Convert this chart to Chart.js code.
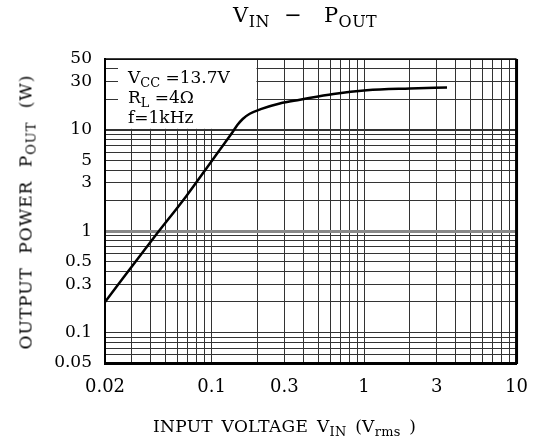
<!DOCTYPE html>
<html>
<head>
<meta charset="utf-8">
<script src="https://cdn.jsdelivr.net/npm/chart.js@4"></script>
<style>
  html, body { margin: 0; padding: 0; background: #fff; }
  #wrap { position: relative; width: 542px; height: 445px; font-family: "DejaVu Serif", serif; color: #000; }
  #wrap canvas { position: absolute; left: 0; top: 0; }
  .t { position: absolute; white-space: nowrap; line-height: 1; }
  .t sub { font-size: 76%; vertical-align: baseline; position: relative; top: 0.3em; }
  #title { left: 233px; top: 5px; font-size: 21px; letter-spacing: 0.5px; }
  #ylab { left: 26px; top: 212px; font-size: 17px; letter-spacing: 1px; word-spacing: 7px; transform: translate(-50%, -50%) rotate(-90deg); }
  #xlab { left: 153px; top: 418px; font-size: 17px; letter-spacing: 0.3px; word-spacing: 3px; }
  #note { left: 128px; top: 68px; font-size: 17px; line-height: 19px; }
</style>
</head>
<body>
<div id="wrap">
  <canvas id="chart" width="542" height="445"></canvas>
  <div class="t" id="title">V<sub>IN</sub>&nbsp; &minus; &nbsp;&nbsp;P<sub>OUT</sub></div>
  <div class="t" id="ylab">OUTPUT POWER P<sub>OUT</sub> (W)</div>
  <div class="t" id="xlab">INPUT VOLTAGE V<sub>IN</sub> (V<sub>rms</sub> )</div>
  <div class="t" id="note">V<sub>CC</sub> =13.7V<br>R<sub>L</sub> =4&Omega;<br>f=1kHz</div>
</div>
<script>
// curve (Vcc=13.7V, RL=4 ohm, 1kHz)
const inputV  = [0.02, 0.042, 0.068, 0.1, 0.122, 0.136, 0.148, 0.16, 0.178, 0.21, 0.28, 0.38, 0.63, 1.04, 2.0, 3.5];
const outputP = [0.2, 0.87, 2.2, 4.9, 7.4, 9.3, 11.2, 12.8, 14.4, 16.0, 18.2, 19.8, 22.6, 24.6, 25.6, 26.2];

const xLabels = [0.02, 0.1, 0.3, 1, 3, 10];
const yLabels = [0.05, 0.1, 0.3, 0.5, 1, 3, 5, 10, 30, 50];

// log grid: every 1..9 step of each decade
function logGrid(min, max){
    const out = [];
    for (let d = -3; d <= 2; d++){
        for (let m = 1; m <= 9; m++){
            const v = +(m * Math.pow(10, d)).toPrecision(3);
            if (v >= min - 1e-9 && v <= max + 1e-9) out.push(v);
        }
    }
    return out;
}
const near = (a, b) => Math.abs(a - b) < 1e-9 * Math.max(1, b);

// white box behind the conditions text + outer frame
const extras = {
    id: 'extras',
    beforeDatasetsDraw(chart){
        const { ctx, chartArea, scales } = chart;
        const left = chartArea.left + 13;
        const right = scales.x.getPixelForValue(0.2) - 1;
        const bottom = scales.y.getPixelForValue(10) - 1;
        ctx.save();
        ctx.fillStyle = '#fff';
        ctx.fillRect(left, chartArea.top + 1, right - left, bottom - chartArea.top - 1);
        ctx.restore();
    },
    afterDraw(chart){
        const { ctx, chartArea: a } = chart;
        ctx.save();
        ctx.strokeStyle = '#000';
        ctx.lineWidth = 1.5;
        ctx.beginPath(); ctx.moveTo(a.left, a.top); ctx.lineTo(a.right, a.top); ctx.stroke();
        ctx.lineWidth = 3;
        ctx.beginPath(); ctx.moveTo(a.right, a.top); ctx.lineTo(a.right, a.bottom + 1); ctx.stroke();
        ctx.restore();
    }
};

new Chart(document.getElementById('chart'), {
    type: 'line',
    data: {
        datasets: [{
            data: inputV.map((v, i) => ({ x: v, y: outputP[i] })),
            borderColor: '#000',
            borderWidth: 2.5,
            pointRadius: 0,
            cubicInterpolationMode: 'monotone',
            fill: false
        }]
    },
    options: {
        responsive: false,
        animation: false,
        layout: { padding: { left: 0, top: 59, right: 25, bottom: 0 } },
        plugins: { legend: { display: false }, tooltip: { enabled: false } },
        scales: {
            x: {
                type: 'logarithmic',
                min: 0.02, max: 10,
                afterBuildTicks: s => { s.ticks = logGrid(0.02, 10).map(v => ({ value: v })); },
                afterFit: s => { s.height = 82; },
                grid: { drawTicks: false, color: '#333', lineWidth: 1 },
                border: { color: '#000', width: 3 },
                ticks: {
                    autoSkip: false, maxRotation: 0, padding: 14, color: '#000',
                    font: { family: '"DejaVu Serif", serif', size: 18 },
                    callback: v => xLabels.some(l => near(v, l)) ? String(v) : ''
                }
            },
            y: {
                type: 'logarithmic',
                min: 0.05, max: 50,
                afterBuildTicks: s => { s.ticks = logGrid(0.05, 50).map(v => ({ value: v })); },
                afterFit: s => { s.width = 105; },
                grid: {
                    drawTicks: false,
                    color: c => near(c.tick.value, 1) ? '#888' : '#333',
                    lineWidth: c => near(c.tick.value, 1) ? 3 : (near(c.tick.value, 10) ? 2 : 1)
                },
                border: { color: '#000', width: 2 },
                ticks: {
                    autoSkip: false, padding: 13, color: '#000',
                    font: { family: '"DejaVu Serif", serif', size: 17 },
                    callback: v => yLabels.some(l => near(v, l)) ? String(v) : ''
                }
            }
        }
    },
    plugins: [extras]
});
</script>
</body>
</html>
